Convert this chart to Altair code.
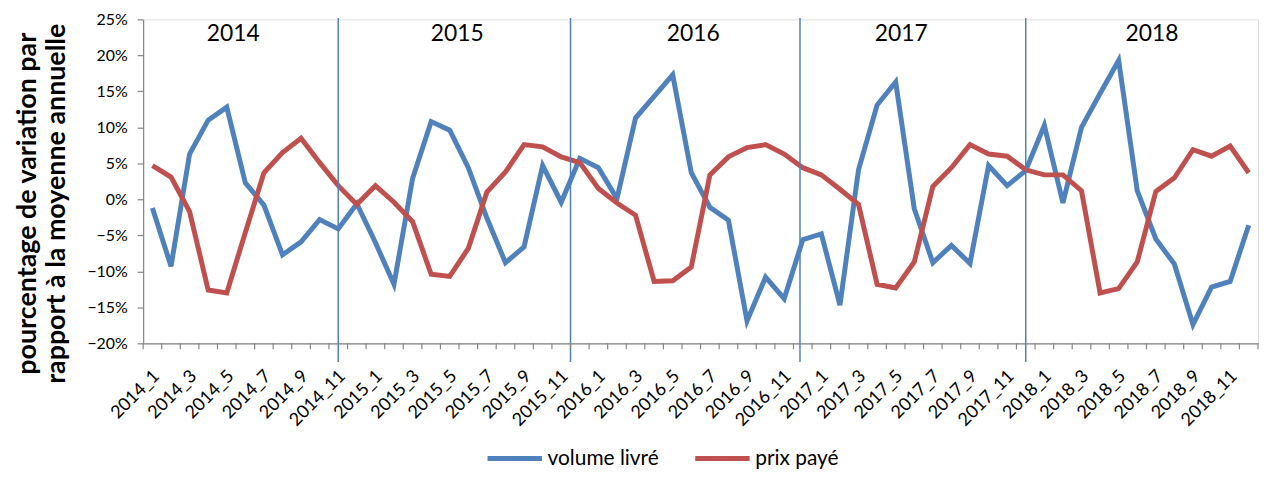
import altair as alt
import pandas as pd

months = [f"{y}_{m}" for y in range(2014, 2019) for m in range(1, 13)]

volume = [-1.2, -9.3, 6.3, 11.0, 12.8, 2.3, -0.8, -7.7, -5.9, -2.8, -4.1, -0.6,
          -6.0, -11.8, 2.9, 10.8, 9.6, 4.4, -2.6, -8.8, -6.6, 4.7, -0.4, 5.7,
          4.4, 0.1, 11.3, 14.3, 17.3, 3.7, -1.1, -2.9, -16.9, -10.8, -13.8, -5.6,
          -4.8, -14.7, 4.1, 13.1, 16.3, -1.3, -8.8, -6.4, -8.9, 4.7, 1.9, 4.0,
          10.3, -0.5, 10.0, 14.7, 19.3, 1.2, -5.5, -9.0, -17.4, -12.2, -11.4, -3.6]

prix = [4.7, 3.1, -1.7, -12.6, -13.0, -4.6, 3.7, 6.5, 8.5, 5.1, 1.9, -0.7,
        1.9, -0.4, -3.1, -10.4, -10.7, -6.8, 1.0, 3.8, 7.6, 7.3, 5.9, 5.1,
        1.5, -0.5, -2.2, -11.4, -11.3, -9.4, 3.4, 5.9, 7.2, 7.6, 6.3, 4.4,
        3.4, 1.4, -0.7, -11.8, -12.3, -8.7, 1.8, 4.4, 7.6, 6.3, 6.0, 4.1,
        3.4, 3.4, 1.2, -13.0, -12.4, -8.7, 1.1, 3.0, 6.9, 6.0, 7.4, 3.7]

series_names = ["volume livré", "prix payé"]
series_colors = ["#4F81BD", "#C0504D"]

years = ["2014", "2015", "2016", "2017", "2018"]
year_label_pos = [4.85, 16.9, 29.6, 40.8, 54.3]
separator_pos = [10.5, 23.0, 35.35, 47.5]

y_ticks = [-0.20, -0.15, -0.10, -0.05, 0.0, 0.05, 0.10, 0.15, 0.20, 0.25]

rows = []
for i, m in enumerate(months):
    rows.append({"pos": i + 0.5, "mois": m, "serie": series_names[0], "val": volume[i] / 100})
    rows.append({"pos": i + 0.5, "mois": m, "serie": series_names[1], "val": prix[i] / 100})
df = pd.DataFrame(rows)

label_values = [i + 0.5 for i in range(0, len(months), 2)]
label_array = "[" + ",".join(f"'{m}'" for m in months) + "]"

FONT = "Lato"
W, H = 1122, 326

xscale = alt.Scale(domain=[0, len(months)], nice=False, zero=False)
yscale = alt.Scale(domain=[-0.20, 0.25], nice=False, zero=False)

xaxis = alt.Axis(
    values=label_values, labelExpr=f"{label_array}[floor(datum.value)]",
    labelAngle=-45, labelAlign="right", labelBaseline="middle",
    labelFont=FONT, labelFontSize=18, labelColor="#000000", labelPadding=30,
    labelOffset=4,
    ticks=False, grid=False, domainColor="#868686", domainWidth=1.2,
    title=None, labelOverlap=False, labelFlush=False, labelBound=False)

yaxis = alt.Axis(
    values=y_ticks, format=".0%", grid=False, tickColor="#868686", tickSize=6,
    domainColor="#868686", domainWidth=1.2, tickWidth=1.2, labelOverlap=False,
    labelFont=FONT, labelFontSize=16, labelColor="#000000", labelPadding=10,
    title=["pourcentage de variation par", "rapport à la moyenne annuelle"],
    titleFont=FONT, titleFontSize=27, titleFontWeight="bold", titleColor="#000000",
    titleLineHeight=30, titlePadding=16, titleLimit=500, titleY=185)

lines = alt.Chart(df).mark_line(strokeWidth=5, strokeJoin="miter", clip=False).encode(
    x=alt.X("pos:Q", scale=xscale, axis=xaxis),
    y=alt.Y("val:Q", scale=yscale, axis=yaxis),
    color=alt.Color("serie:N", sort=series_names,
                    scale=alt.Scale(domain=series_names, range=series_colors),
                    legend=alt.Legend(
                        title=None, orient="none", direction="horizontal",
                        legendX=344, legendY=412, symbolType="stroke",
                        symbolStrokeWidth=5, symbolSize=3000, labelFont=FONT,
                        labelFontSize=21, labelColor="#000000", columnPadding=26,
                        labelOffset=3, padding=0)),
    order="pos:Q",
)

tick_df = pd.DataFrame({"t": list(range(0, len(months) + 1))})
ticks = alt.Chart(tick_df).mark_rule(color="#868686", strokeWidth=1.2).encode(
    x=alt.X("t:Q", scale=xscale, axis=xaxis),
    y=alt.value(H),
    y2=alt.value(H + 6),
)

sep_df = pd.DataFrame({"s": separator_pos})
seps = alt.Chart(sep_df).mark_rule(color="#4F81BD", strokeWidth=1.5, clip=False).encode(
    x=alt.X("s:Q", scale=xscale, axis=xaxis),
    y=alt.datum(0.252, scale=yscale, axis=yaxis),
    y2=alt.datum(-0.226),
)

yr_df = pd.DataFrame({"annee": years, "p": year_label_pos})
yr = alt.Chart(yr_df).mark_text(font=FONT, fontSize=23, color="#000000", baseline="middle").encode(
    x=alt.X("p:Q", scale=xscale, axis=xaxis),
    y=alt.datum(0.229, scale=yscale, axis=yaxis),
    text="annee:N",
)

chart = alt.layer(lines, seps, ticks, yr).properties(
    width=W, height=H,
    padding={"left": 136, "top": 10, "right": 2, "bottom": 125},
    autosize=alt.AutoSizeParams(type="none"),
).configure_view(stroke=None).configure(background="white")

chart.save("out.html", embed_options={"renderer": "svg", "actions": False})
